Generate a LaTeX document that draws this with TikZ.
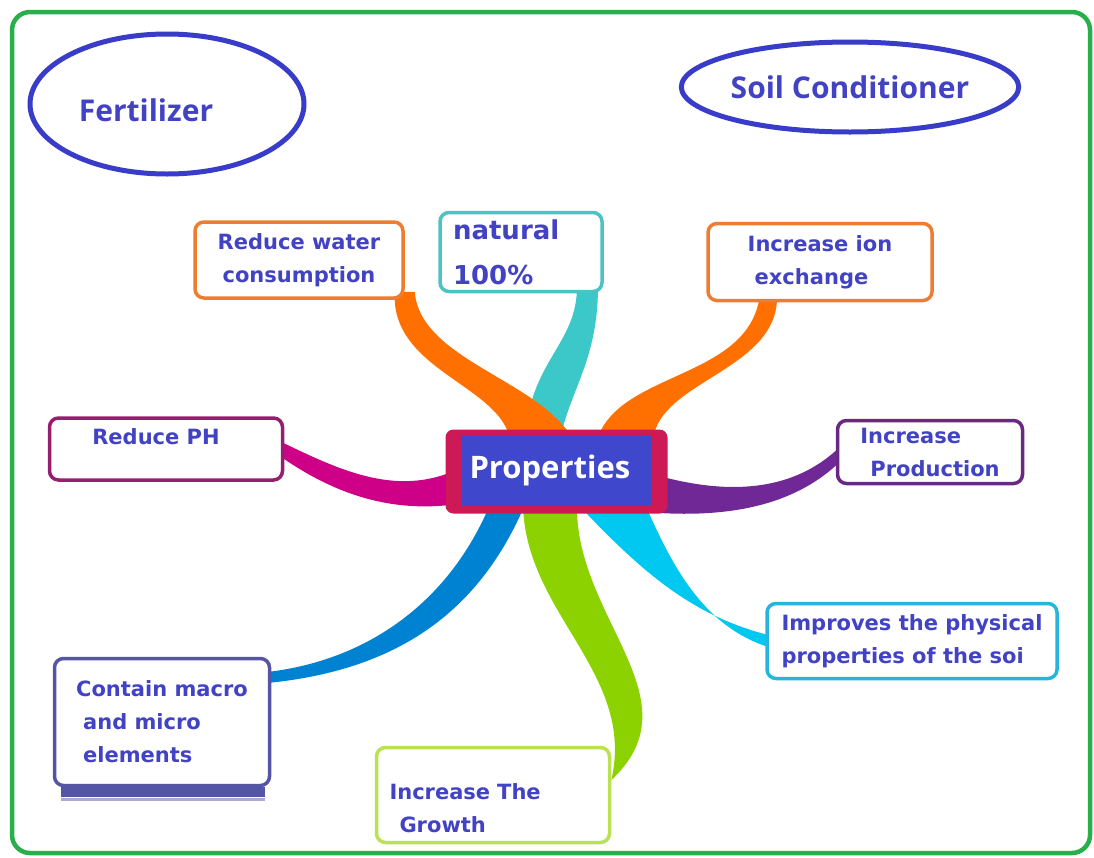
\documentclass[tikz,border=0pt]{standalone}
\usepackage{fontspec}
\setmainfont{Open Sans}
\newfontfamily\dejavu{DejaVu Sans}
\usetikzlibrary{shapes.geometric,calc,backgrounds}

\definecolor{inkblue}{RGB}{66,66,196}
\definecolor{ringblue}{RGB}{56,60,200}
\definecolor{propblue}{RGB}{63,72,204}
\definecolor{propred}{RGB}{205,25,85}
\definecolor{framegreen}{RGB}{40,175,75}
\definecolor{orangeline}{RGB}{237,125,49}
\definecolor{orangebranch}{RGB}{255,112,0}
\definecolor{tealline}{RGB}{75,195,195}
\definecolor{tealbranch}{RGB}{60,200,200}
\definecolor{phline}{RGB}{150,30,110}
\definecolor{phbranch}{RGB}{205,0,135}
\definecolor{purpleline}{RGB}{105,40,130}
\definecolor{purplebranch}{RGB}{112,40,150}
\definecolor{cyanline}{RGB}{40,180,220}
\definecolor{cyanbranch}{RGB}{0,200,240}
\definecolor{navyline}{RGB}{85,85,165}
\definecolor{bluebranch}{RGB}{0,130,210}
\definecolor{limeline}{RGB}{185,225,80}
\definecolor{limebranch}{RGB}{140,210,0}

\tikzset{
  ring/.style={ellipse, draw=ringblue, line width=5pt, inner sep=0pt},
  ringtext/.style={font=\fontsize{30}{36}\selectfont\bfseries, text=inkblue},
  leaf/.style={draw, fill=white, rounded corners=9pt, line width=3.5pt, align=left,
    inner sep=0pt, text=inkblue, font=\dejavu\bfseries\fontsize{21}{33}\selectfont},
}

\begin{document}
\begin{tikzpicture}[x=1pt,y=-1pt]
    \useasboundingbox (0,0) rectangle (1094,857);
    \draw[framegreen, line width=4.5pt, rounded corners=18pt] (12,12) rectangle (1090,853);

    \node[ring, minimum width=274pt, minimum height=140pt,
      label={[ringtext, xshift=-21pt, yshift=-6pt]center:Fertilizer}] (fert) at (167,104) {};
    \node[ring, ringtext, minimum width=320pt, minimum height=90pt] (soil) at (850,87) {Soil Conditioner};

    \node[draw=propred, fill=propblue, line width=2pt, text width=173pt, inner xsep=10pt,
      minimum height=73pt, text=white, font=\fontsize{31}{36}\selectfont\bfseries] (prop) at (556,470) {Properties};

    \node[leaf, draw=orangeline, minimum width=208pt, minimum height=76pt, align=center] (water) at (299,260) {Reduce water\\consumption};
    \node[leaf, draw=tealline, text width=136pt, inner xsep=13pt, minimum height=79pt,
      font=\dejavu\bfseries\fontsize{26}{45}\selectfont] (natural) at (521,252) {natural\\100\%};
    \node[leaf, draw=orangeline, minimum width=224pt, minimum height=77pt] (ion) at (820,262) {Increase ion\\\hspace*{7pt}exchange};
    \node[leaf, draw=phline, minimum width=233pt, minimum height=62pt] (ph) at (166,449) {\hspace*{-20pt}Reduce PH\rule[-24pt]{0pt}{0pt}};
    \node[leaf, draw=purpleline, minimum width=185pt, minimum height=63pt] (prod) at (930,452) {Increase\\\hspace*{10pt}Production};
    \node[leaf, draw=cyanline, minimum width=290pt, minimum height=75pt] (soilprop) at (912,641) {Improves the physical\\properties of the soi};
    \node[leaf, draw=navyline, minimum width=215pt, minimum height=127pt] (macro) at (162,722) {Contain macro\\\hspace*{7pt}and micro\\\hspace*{7pt}elements};
    \draw[navyline, line width=10pt] ($(macro.south west)+(8,5)$) -- ($(macro.south east)+(-6,5)$);
    \draw[navyline!50, line width=3pt] ($(macro.south west)+(8,12)$) -- ($(macro.south east)+(-6,12)$);
    \node[leaf, draw=limeline, text width=207pt, inner xsep=13pt, minimum height=95pt] (growth) at (493,795) {\rule{0pt}{42pt}Increase The\\\hspace*{10pt}Growth};

    \begin{pgfonlayer}{background}
    \fill[tealbranch] ($(natural.south)+(56,-7)$) .. controls (577,345) and (530,360) .. ($(prop.north)+(-31,7)$)
      -- ($(prop.north)+(4,7)$) .. controls (570,390) and (598,360) .. ($(natural.south)+(77,-7)$) -- cycle;
    \fill[orangebranch] ($(water.south east)+(-10,-8)$) .. controls (390,370) and (500,385) .. ($(prop.north)+(-46,7)$)
      -- ($(prop.north)+(17,7)$) .. controls (540,380) and (420,360) .. ($(water.south east)+(10,-8)$) -- cycle;
    \fill[orangebranch] ($(ion.south)+(-60,-8)$) .. controls (750,380) and (620,370) .. ($(prop.north)+(41,7)$)
      -- ($(prop.north)+(97,7)$) .. controls (660,380) and (780,370) .. ($(ion.south)+(-43,-8)$) -- cycle;
    \fill[phbranch] ($(ph.east)+(-3,-7)$) .. controls (340,470) and (400,500) .. ($(prop.west)+(6,-4)$)
      -- ($(prop.west)+(6,33)$) .. controls (410,512) and (350,505) .. ($(ph.east)+(-3,8)$) -- cycle;
    \fill[purplebranch] ($(prop.east)+(-8,2)$) .. controls (720,495) and (790,495) .. ($(prod.west)+(4,-5)$)
      -- ($(prod.west)+(4,10)$) .. controls (800,500) and (740,520) .. ($(prop.east)+(-8,42)$) -- cycle;
    \fill[bluebranch] ($(prop.south)+(-66,-3)$) .. controls (450,600) and (370,660) .. ($(macro.east)+(-4,-50)$)
      -- ($(macro.east)+(-4,-39)$) .. controls (400,670) and (480,610) .. ($(prop.south)+(-31,-3)$) -- cycle;
    \fill[limebranch] ($(prop.south)+(-33,-3)$) .. controls (525,620) and (650,680) .. ($(growth.east)+(-6,5)$)
      -- ($(growth.east)+(-2,-13)$) .. controls (700,700) and (575,620) .. ($(prop.south)+(21,-3)$) -- cycle;
    \fill[cyanbranch] ($(prop.south)+(22,-3)$) .. controls (640,570) and (690,615) .. ($(soilprop.west)+(3,-6)$)
      -- ($(soilprop.west)+(3,6)$) .. controls (700,625) and (670,560) .. ($(prop.south)+(89,-3)$) -- cycle;
    \fill[propred, rounded corners=8pt] ($(prop.north west)+(-13,-3)$) rectangle ($(prop.south east)+(14,6)$);
    \end{pgfonlayer}
\end{tikzpicture}
\end{document}
